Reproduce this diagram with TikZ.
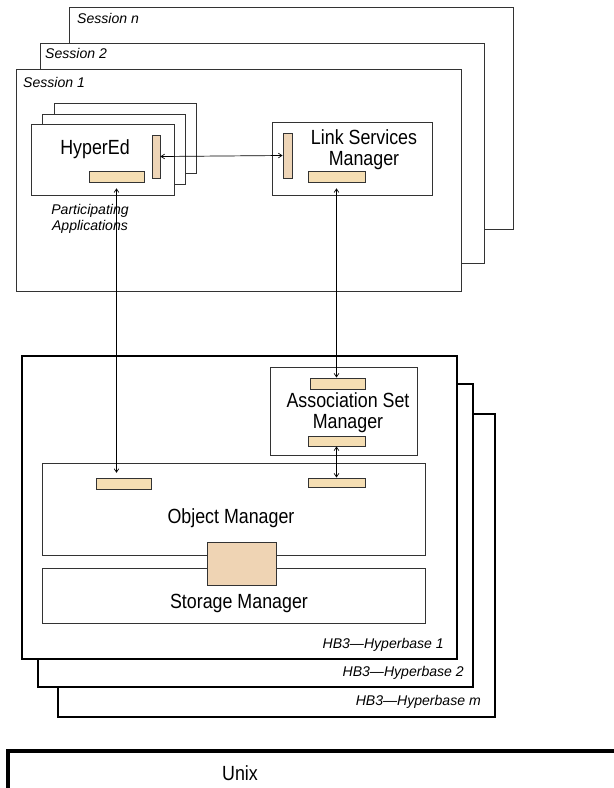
\documentclass[tikz,border=0pt]{standalone}
\usepackage{fontspec}
\setmainfont{Liberation Sans}
\newfontfamily\narrowsans[FakeStretch=0.87]{Liberation Sans}
\usetikzlibrary{arrows.meta,fit}

\definecolor{portfill}{HTML}{F5DEB3}
\definecolor{sidefill}{HTML}{EED5B7}
\definecolor{blockfill}{HTML}{EFD4B4}

% a port is a small filled box fitted to two corners
\newcommand{\portbox}[6]{\node[port, fill=#6, fit={(#2,#3) (#4,#5)}] (#1) {};}

\begin{document}
\begin{tikzpicture}[x=0.3mm, y=-0.3mm,
  frame/.style={draw=black!80, line width=0.8pt, fill=white},
  hbframe/.style={draw=black, line width=2.4pt, fill=white},
  port/.style={draw=black!80, line width=0.8pt, inner sep=0pt},
  label/.style={font=\narrowsans\fontsize{17.5}{18}\selectfont, align=center, inner sep=0pt},
  tag/.style={font=\fontsize{12}{14}\selectfont\itshape, align=center, inner sep=0pt},
  link/.style={draw=black, line width=0.6pt, {Straight Barb[length=3pt,width=4pt]}-{Straight Barb[length=3pt,width=4pt]}}]

\useasboundingbox (0,0) rectangle (614,788);

% sessions, back to front
\draw[frame] (69,7) rectangle (513,229);
\draw[frame] (40,43) rectangle (484,263);
\draw[frame] (16,69) rectangle (461,291);
\node[tag, anchor=west] (sessn) at (77,18) {Session \textit{n}};
\node[tag, anchor=west] (sess2) at (45,53) {Session 2};
\node[tag, anchor=west] (sess1) at (23,82) {Session 1};

% participating applications
\draw[frame] (54,103) rectangle (196,173);
\draw[frame] (42,114) rectangle (185,184);
\draw[frame] (31,124) rectangle (174,195);
\node[label] (hyped) at (95,149) {HyperEd};
\portbox{heSide}{152}{135}{160}{178}{sidefill}
\portbox{heBot}{89}{171}{144}{182}{portfill}
\node[tag] (partapp) at (90,219) {Participating\\Applications};

% link services manager
\draw[frame] (272,122) rectangle (432,195);
\node[label] (lsm) at (364,150) {Link Services\\Manager};
\portbox{lsSide}{283}{133}{292}{178}{sidefill}
\portbox{lsBot}{308}{171}{365}{182}{portfill}

% hyperbases, back to front
\draw[hbframe] (58,414) rectangle (495,717);
\draw[hbframe] (38,384) rectangle (473,687);
\draw[hbframe] (22,356) rectangle (457,659);
\node[tag, anchor=east] (hbm) at (481,702) {HB3---Hyperbase \textit{m}};
\node[tag, anchor=east] (hb2) at (464,673) {HB3---Hyperbase 2};
\node[tag, anchor=east] (hb1) at (444,645) {HB3---Hyperbase 1};

% association set manager
\draw[frame] (270,367) rectangle (417,455);
\node[label] (asm) at (348,413) {Association Set\\Manager};
\portbox{asTop}{310}{378}{365}{389}{portfill}
\portbox{asBot}{308}{436}{365}{446}{portfill}

% object and storage managers
\draw[frame] (42,463) rectangle (425,555);
\node[label] (om) at (231,518) {Object Manager};
\portbox{omLeft}{96}{478}{151}{489}{portfill}
\portbox{omRight}{308}{478}{365}{487}{portfill}
\draw[frame] (42,568) rectangle (425,623);
\node[label] (sm) at (239,603) {Storage Manager};
\portbox{smBlock}{207}{542}{276}{585}{blockfill}

% unix
\draw[black, line width=2.8pt] (8,790) -- (8,751) -- (616,751);
\node[label] (unix) at (240,773) {Unix};

% connections
\draw[link] (heSide.east) -- (lsSide.west);
\draw[link, shorten <=5pt, shorten >=4pt] (heBot.south) -- (heBot.south |- omLeft.north);
\draw[link, shorten <=5pt] (lsBot.south) -- (lsBot.south |- asTop.north);
\draw[link] (asBot.south) -- (asBot.south |- omRight.north);

\end{tikzpicture}
\end{document}
